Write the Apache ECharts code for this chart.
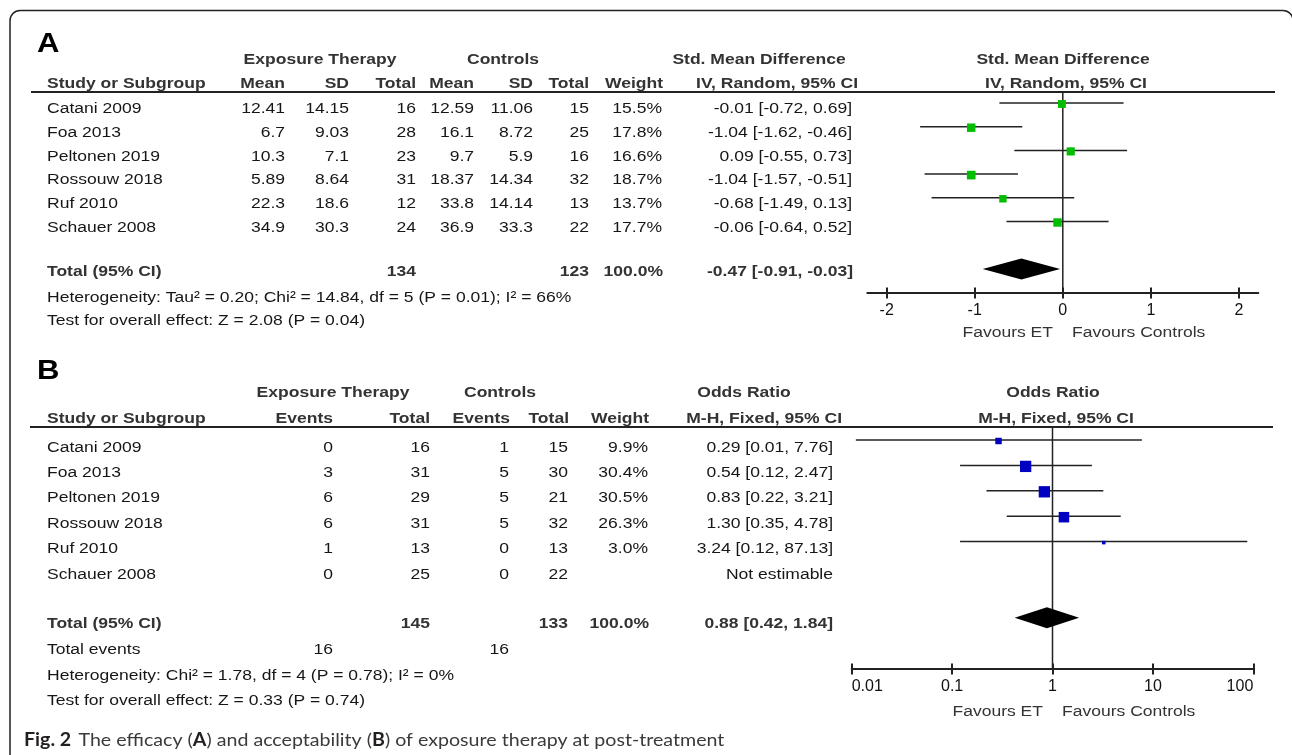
<!DOCTYPE html>
<html><head><meta charset="utf-8">
<script src="https://cdn.jsdelivr.net/npm/echarts@6/dist/echarts.min.js"></script>
<style>html,body{margin:0;padding:0;background:#fff}#c{width:1292px;height:755px}</style>
</head><body><div id="c"></div>
<script>
// ---------- Panel A: efficacy (Std. Mean Difference, IV, Random) ----------
const A_studies = ['Catani 2009','Foa 2013','Peltonen 2019','Rossouw 2018','Ruf 2010','Schauer 2008'];
const A_etMean = [12.41, 6.7, 10.3, 5.89, 22.3, 34.9];
const A_etSD   = [14.15, 9.03, 7.1, 8.64, 18.6, 30.3];
const A_etN    = [16, 28, 23, 31, 12, 24];
const A_cMean  = [12.59, 16.1, 9.7, 18.37, 33.8, 36.9];
const A_cSD    = [11.06, 8.72, 5.9, 14.34, 14.14, 33.3];
const A_cN     = [15, 25, 16, 32, 13, 22];
const A_weight = [15.5, 17.8, 16.6, 18.7, 13.7, 17.7];
const A_est    = [-0.01, -1.04, 0.09, -1.04, -0.68, -0.06];
const A_lo     = [-0.72, -1.62, -0.55, -1.57, -1.49, -0.64];
const A_hi     = [0.69, -0.46, 0.73, -0.51, 0.13, 0.52];
const A_total  = [-0.47, -0.91, -0.03];
const A_totalWeight = '100.0%';
const A_ticks  = [-2, -1, 0, 1, 2];
const A_het  = 'Heterogeneity: Tau\u00b2 = 0.20; Chi\u00b2 = 14.84, df = 5 (P = 0.01); I\u00b2 = 66%';
const A_test = 'Test for overall effect: Z = 2.08 (P = 0.04)';

// ---------- Panel B: acceptability (Odds Ratio, M-H, Fixed) ----------
const B_studies  = ['Catani 2009','Foa 2013','Peltonen 2019','Rossouw 2018','Ruf 2010','Schauer 2008'];
const B_etEvents = [0, 3, 6, 6, 1, 0];
const B_etN      = [16, 31, 29, 31, 13, 25];
const B_cEvents  = [1, 5, 5, 5, 0, 0];
const B_cN       = [15, 30, 21, 32, 13, 22];
const B_weight   = [9.9, 30.4, 30.5, 26.3, 3.0, null];
const B_or       = [0.29, 0.54, 0.83, 1.30, 3.24, null];
const B_lo       = [0.011, 0.12, 0.22, 0.35, 0.12, null];
const B_hi       = [7.76, 2.47, 3.21, 4.78, 87.13, null];
const B_total    = [0.88, 0.42, 1.84];
const B_totalWeight = '100.0%';
const B_ticks    = [0.01, 0.1, 1, 10, 100];
const B_tickLabels = ['0.01', '0.1', '1', '10', '100'];
const B_het  = 'Heterogeneity: Chi\u00b2 = 1.78, df = 4 (P = 0.78); I\u00b2 = 0%';
const B_test = 'Test for overall effect: Z = 0.33 (P = 0.74)';

// ---------- styling ----------
const FONT = '"Liberation Sans", Arial, sans-serif';
const FS = 15.5, SX = 1.13;
const BODY = '#161616', HEAD = '#333333', LINE = '#222222';
const GREEN = '#00bd00', BLUE = '#0000c0';

const G = [];
function T(s, x, y, align, o) {
  o = o || {};
  G.push({
    type: 'text', x: x, y: y, scaleX: o.sx != null ? o.sx : SX, silent: true, z: 50,
    style: {
      text: String(s), x: 0, y: 0, fill: o.color || BODY,
      font: (o.bold ? 'bold ' : '') + (o.size || FS) + 'px ' + (o.family || FONT),
      align: align, verticalAlign: 'middle', textAlign: align, textVerticalAlign: 'middle'
    }
  });
}
function HL(x1, x2, y, w) {
  G.push({type: 'line', silent: true, z: 40, shape: {x1: x1, y1: y, x2: x2, y2: y},
          style: {stroke: LINE, lineWidth: w || 2}});
}
const ci = (e, l, h) => e.toFixed(2) + ' [' + l.toFixed(2) + ', ' + h.toFixed(2) + ']';
const sum = a => a.reduce((s, v) => s + v, 0);

// frame
G.push({type: 'rect', silent: true, z: 1, shape: {x: 10, y: 10.5, width: 1283, height: 800, r: 10},
        style: {fill: 'none', stroke: '#222', lineWidth: 1.5}});

// ===== Panel A text =====
T('A', 37, 45, 'left', {bold: true, size: 27, color: '#000', sx: 1.15});
const A_h1 = 60, A_h2 = 84;
T('Exposure Therapy', 320, A_h1, 'center', {bold: true, color: HEAD});
T('Controls', 503, A_h1, 'center', {bold: true, color: HEAD});
T('Std. Mean Difference', 759, A_h1, 'center', {bold: true, color: HEAD});
T('Std. Mean Difference', 1063, A_h1, 'center', {bold: true, color: HEAD});
T('Study or Subgroup', 47, A_h2, 'left', {bold: true, color: HEAD});
[['Mean',285],['SD',349],['Total',416],['Mean',474],['SD',533],['Total',589],['Weight',663],['IV, Random, 95% CI',858]]
  .forEach(c => T(c[0], c[1], A_h2, 'right', {bold: true, color: HEAD}));
T('IV, Random, 95% CI', 1066, A_h2, 'center', {bold: true, color: HEAD});
HL(31, 1275, 92, 2);
A_studies.forEach((s, i) => {
  const y = 109 + 23.7 * i;
  T(s, 47, y, 'left');
  T(A_etMean[i], 285, y, 'right'); T(A_etSD[i], 349, y, 'right'); T(A_etN[i], 416, y, 'right');
  T(A_cMean[i], 474, y, 'right'); T(A_cSD[i], 533, y, 'right'); T(A_cN[i], 589, y, 'right');
  T(A_weight[i].toFixed(1) + '%', 662, y, 'right');
  T(ci(A_est[i], A_lo[i], A_hi[i]), 852, y, 'right');
});
const A_ty = 272;
T('Total (95% CI)', 47, A_ty, 'left', {bold: true, color: HEAD});
T(sum(A_etN), 416, A_ty, 'right', {bold: true, color: HEAD});
T(sum(A_cN), 589, A_ty, 'right', {bold: true, color: HEAD});
T(A_totalWeight, 663, A_ty, 'right', {bold: true, color: HEAD});
T(ci(A_total[0], A_total[1], A_total[2]), 853, A_ty, 'right', {bold: true, color: HEAD});
T(A_het, 47, 298, 'left');
T(A_test, 47, 321, 'left');
T('Favours ET', 1053, 333, 'right', {color: '#333'});
T('Favours Controls', 1072, 333, 'left', {color: '#333'});

// ===== Panel B text =====
T('B', 37, 372, 'left', {bold: true, size: 27, color: '#000', sx: 1.15});
const B_h1 = 393, B_h2 = 419;
T('Exposure Therapy', 333, B_h1, 'center', {bold: true, color: HEAD});
T('Controls', 500, B_h1, 'center', {bold: true, color: HEAD});
T('Odds Ratio', 744, B_h1, 'center', {bold: true, color: HEAD});
T('Odds Ratio', 1053, B_h1, 'center', {bold: true, color: HEAD});
T('Study or Subgroup', 47, B_h2, 'left', {bold: true, color: HEAD});
[['Events',333],['Total',430],['Events',510],['Total',569],['Weight',649],['M-H, Fixed, 95% CI',842]]
  .forEach(c => T(c[0], c[1], B_h2, 'right', {bold: true, color: HEAD}));
T('M-H, Fixed, 95% CI', 1056, B_h2, 'center', {bold: true, color: HEAD});
HL(30, 1273, 427, 2);
B_studies.forEach((s, i) => {
  const y = 447.5 + 25.35 * i;
  T(s, 47, y, 'left');
  T(B_etEvents[i], 333, y, 'right'); T(B_etN[i], 430, y, 'right');
  T(B_cEvents[i], 509, y, 'right'); T(B_cN[i], 568, y, 'right');
  if (B_weight[i] != null) T(B_weight[i].toFixed(1) + '%', 648, y, 'right');
  T(B_or[i] != null ? ci(B_or[i], B_lo[i], B_hi[i]) : 'Not estimable', 833, y, 'right');
});
const B_ty = 624;
T('Total (95% CI)', 47, B_ty, 'left', {bold: true, color: HEAD});
T(sum(B_etN), 430, B_ty, 'right', {bold: true, color: HEAD});
T(sum(B_cN), 568, B_ty, 'right', {bold: true, color: HEAD});
T(B_totalWeight, 649, B_ty, 'right', {bold: true, color: HEAD});
T(ci(B_total[0], B_total[1], B_total[2]), 833, B_ty, 'right', {bold: true, color: HEAD});
T('Total events', 47, 650, 'left');
T(sum(B_etEvents), 333, 650, 'right');
T(sum(B_cEvents), 509, 650, 'right');
T(B_het, 47, 676, 'left');
T(B_test, 47, 701, 'left');
T('Favours ET', 1043, 712, 'right', {color: '#333'});
T('Favours Controls', 1062, 712, 'left', {color: '#333'});

// caption
G.push({type: 'text', x: 24, y: 740, scaleX: 1.09, silent: true, z: 50,
  style: {
    text: '{b|Fig. 2}  {n|The efficacy (}{b|A}{n|) and acceptability (}{b|B}{n|) of exposure therapy at post-treatment}',
    x: 0, y: 0, verticalAlign: 'middle', textVerticalAlign: 'middle',
    rich: {
      b: {fontFamily: 'Lato', fontWeight: 'bold', fontSize: 18, fill: '#231f20', color: '#231f20'},
      n: {fontFamily: 'Lato', fontWeight: 'normal', fontSize: 18, fill: '#3a3a3a', color: '#3a3a3a'}
    }
  }});

// ===== series builders =====
function forestRender(color, k) {
  return function (params, api) {
    const row = api.value(0), est = api.value(1), lo = api.value(2), hi = api.value(3), w = api.value(4);
    const pL = api.coord([lo, row]), pH = api.coord([hi, row]), pE = api.coord([est, row]);
    const sz = k * Math.sqrt(w);
    return {type: 'group', children: [
      {type: 'line', shape: {x1: pL[0], y1: pL[1], x2: pH[0], y2: pH[1]}, style: {stroke: LINE, lineWidth: 1.5}},
      {type: 'rect', shape: {x: pE[0] - sz / 2, y: pE[1] - sz / 2 + 1, width: sz, height: sz}, style: {fill: color}}
    ]};
  };
}
function diamondRender(params, api) {
  const row = api.value(0);
  const pE = api.coord([api.value(1), row]), pL = api.coord([api.value(2), row]), pH = api.coord([api.value(3), row]);
  const h = 10.5;
  return {type: 'polygon', shape: {points: [[pL[0], pE[1]], [pE[0], pE[1] - h], [pH[0], pE[1]], [pE[0], pE[1] + h]]},
          style: {fill: '#000'}};
}
const axisLab = {color: '#111', fontSize: 16, fontFamily: FONT, margin: 10};
const tickStyle = {color: LINE, width: 2};

const rowsA = A_studies.map((s, i) => [i, A_est[i], A_lo[i], A_hi[i], A_weight[i]]);
const rowsB = [];
B_studies.forEach((s, i) => {
  if (B_or[i] != null) rowsB.push([i, Math.log10(B_or[i]), Math.log10(B_lo[i]), Math.log10(B_hi[i]), B_weight[i]]);
});
const A_nullRow = [-0.5, 8], B_nullRow = [-0.5, 9];

const option = {
  animation: false,
  backgroundColor: '#ffffff',
  grid: [
    {left: 867.3, top: 91.15, width: 391, height: 201.45},
    {left: 851.7, top: 427.3, width: 401.6, height: 241.3}
  ],
  xAxis: [
    {gridIndex: 0, type: 'value', position: 'bottom', min: -2.22, max: 2.22,
     axisLine: {onZero: false, lineStyle: {color: LINE, width: 2}},
     axisTick: {customValues: A_ticks, length: 6, lineStyle: tickStyle},
     axisLabel: Object.assign({customValues: A_ticks}, axisLab),
     splitLine: {show: false}},
    {gridIndex: 0, type: 'value', position: 'bottom', min: -2.22, max: 2.22,
     axisLine: {show: false, onZero: false},
     axisTick: {customValues: A_ticks, inside: true, length: 5, lineStyle: tickStyle},
     axisLabel: {show: false}, splitLine: {show: false}},
    {gridIndex: 1, type: 'value', position: 'bottom', min: -2, max: 2, interval: 1,
     axisLine: {onZero: false, lineStyle: {color: LINE, width: 2}},
     axisTick: {length: 6, lineStyle: tickStyle},
     axisLabel: Object.assign({
       alignMinLabel: 'left', alignMaxLabel: 'right',
       formatter: v => B_tickLabels[B_ticks.findIndex(t => Math.abs(Math.log10(t) - v) < 1e-6)]
     }, axisLab),
     splitLine: {show: false}},
    {gridIndex: 1, type: 'value', position: 'bottom', min: -2, max: 2, interval: 1,
     axisLine: {show: false, onZero: false},
     axisTick: {inside: true, length: 5, lineStyle: tickStyle},
     axisLabel: {show: false}, splitLine: {show: false}}
  ],
  yAxis: [
    {gridIndex: 0, type: 'value', min: -0.5, max: 8, inverse: true, show: false},
    {gridIndex: 1, type: 'value', min: -0.5, max: 9, inverse: true, show: false}
  ],
  series: [
    {type: 'line', xAxisIndex: 0, yAxisIndex: 0, silent: true, symbol: 'none', z: 1,
     data: [[0, A_nullRow[0]], [0, A_nullRow[1]]], lineStyle: {color: LINE, width: 1.5}},
    {type: 'custom', xAxisIndex: 0, yAxisIndex: 0, silent: true, z: 3, encode: {x: [1, 2, 3], y: 0},
     data: rowsA, renderItem: forestRender(GREEN, 2.0)},
    {type: 'custom', xAxisIndex: 0, yAxisIndex: 0, silent: true, z: 3, encode: {x: [1, 2, 3], y: 0},
     data: [[7, A_total[0], A_total[1], A_total[2]]], renderItem: diamondRender},
    {type: 'line', xAxisIndex: 2, yAxisIndex: 1, silent: true, symbol: 'none', z: 1,
     data: [[0, B_nullRow[0]], [0, B_nullRow[1]]], lineStyle: {color: LINE, width: 1.5}},
    {type: 'custom', xAxisIndex: 2, yAxisIndex: 1, silent: true, z: 3, encode: {x: [1, 2, 3], y: 0},
     data: rowsB, renderItem: forestRender(BLUE, 2.05)},
    {type: 'custom', xAxisIndex: 2, yAxisIndex: 1, silent: true, z: 3, encode: {x: [1, 2, 3], y: 0},
     data: [[7, Math.log10(B_total[0]), Math.log10(B_total[1]), Math.log10(B_total[2])]], renderItem: diamondRender}
  ],
  graphic: {elements: G}
};
const chart = echarts.init(document.getElementById('c'), null, {renderer: 'canvas'});
chart.setOption(option);
</script>
</body></html>
